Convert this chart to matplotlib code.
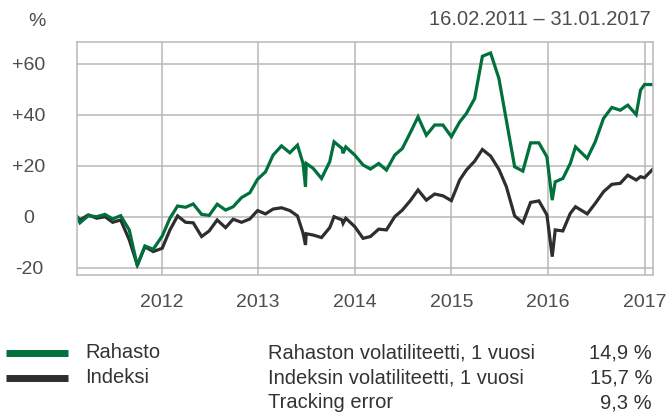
import matplotlib
matplotlib.use("Agg")
import matplotlib.pyplot as plt
from matplotlib.lines import Line2D

plt.rcParams['font.family'] = ['Liberation Sans', 'DejaVu Sans']

# time axis as fractional years (16.02.2011 - 31.01.2017)
t = [2011.124, 2011.155, 2011.241, 2011.328, 2011.414, 2011.493, 2011.576, 2011.665, 2011.748, 2011.827,
     2011.913, 2012.006, 2012.086, 2012.165, 2012.248, 2012.327, 2012.414, 2012.492, 2012.575, 2012.662,
     2012.740, 2012.827, 2012.913, 2012.993, 2013.075, 2013.154, 2013.241, 2013.327, 2013.406, 2013.464,
     2013.489, 2013.497, 2013.568, 2013.655, 2013.740, 2013.785, 2013.868, 2013.878, 2013.906, 2013.999,
     2014.085, 2014.161, 2014.247, 2014.327, 2014.413, 2014.492, 2014.578, 2014.654, 2014.740, 2014.826,
     2014.912, 2014.999, 2015.085, 2015.154, 2015.240, 2015.320, 2015.405, 2015.491, 2015.568, 2015.654,
     2015.739, 2015.819, 2015.905, 2015.988, 2016.043, 2016.074, 2016.153, 2016.230, 2016.284, 2016.405,
     2016.488, 2016.574, 2016.660, 2016.747, 2016.825, 2016.912, 2016.957, 2016.998, 2017.083]

rahasto = [0, -2.4, 0.4, 0, 0.9, -0.9, 0.4, -5.2, -19.3, -11.5,
           -12.8, -7.6, -0.6, 4.2, 3.7, 5.0, 0.9, 0.5, 4.9, 2.6,
           3.9, 7.5, 9.4, 14.7, 17.6, 24.2, 27.8, 25.1, 28.1, 20.9,
           11.8, 20.9, 19.0, 15.0, 21.6, 29.4, 26.8, 24.9, 27.4, 24.2,
           20.3, 18.7, 20.9, 18.3, 24.2, 26.8, 33.3, 39.2, 32.0, 36.0,
           36.0, 31.4, 37.2, 40.5, 46.4, 63.0, 64.3, 54.3, 37.9, 19.6,
           17.9, 29.0, 29.0, 23.5, 6.5, 13.7, 15.0, 20.9, 27.4, 22.9,
           29.4, 38.6, 42.9, 41.8, 43.8, 40.1, 49.7, 51.9, 51.9]

indeksi = [0, -1.3, 0.7, -0.6, 0, -2.2, -1.3, -9.1, -18.9, -11.8,
           -13.7, -12.4, -5.2, 0.3, -2.2, -2.4, -7.8, -5.6, -1.3, -4.3,
           -1.0, -2.2, -0.9, 2.4, 1.1, 3.0, 3.5, 2.4, 0.3, -6.5,
           -11.1, -6.7, -7.2, -8.2, -4.3, 0, -1.3, -2.6, -0.6, -3.9,
           -8.5, -7.8, -4.9, -5.2, 0, 2.6, 6.5, 10.5, 6.5, 8.9,
           8.2, 6.3, 14.4, 18.3, 21.8, 26.4, 23.8, 18.6, 11.8, 0.3,
           -2.4, 5.6, 6.2, 0.7, -15.7, -5.2, -5.6, 1.3, 3.9, 1.1,
           5.2, 9.8, 12.7, 13.1, 16.3, 14.4, 15.7, 15.3, 18.6]

years = [2012, 2013, 2014, 2015, 2016, 2017]
yticks = [-20, 0, 20, 40, 60]
ylabels = ["-20", "0", "+20", "+40", "+60"]

stat_names = ["Rahaston volatiliteetti, 1 vuosi", "Indeksin volatiliteetti, 1 vuosi", "Tracking error"]
stat_values = ["14,9 %", "15,7 %", "9,3 %"]

green = "#00703c"
dark = "#2e2e2e"
gridc = "#b8b8b8"
textc = "#4d4d4d"

fig = plt.figure(figsize=(6.69, 4.15), dpi=100)
ax = fig.add_axes([77/669, 1 - 275/415, (652.7 - 77)/669, (275 - 42)/415])

ax.plot(t, indeksi, color=dark, lw=2.3, solid_joinstyle='miter')
ax.plot(t, rahasto, color=green, lw=2.3, solid_joinstyle='miter')

ax.set_xlim(2011.124, 2017.083)
ax.set_ylim(-22.9, 68.6)
ax.set_xticks(years)
ax.set_xticklabels([str(y) for y in years])
ax.set_yticks(yticks)
ax.set_yticklabels(ylabels)
for lab in ax.get_yticklabels():
    lab.set_ha('center')
ax.tick_params(axis='y', length=0, pad=34.5, labelsize=14, labelcolor=textc)
ax.tick_params(axis='x', length=0, pad=14, labelsize=14, labelcolor=textc)
ax.grid(True, color=gridc, lw=1.1)
ax.set_axisbelow(True)
for s in ax.spines.values():
    s.set_color(gridc)
    s.set_linewidth(1.1)

fig.text(37/669, 1 - 21/415, "%", ha='center', va='center', fontsize=14, color=textc)
fig.text(651/669, 1 - 19.5/415, "16.02.2011 \u2013 31.01.2017", ha='right', va='center',
         fontsize=14.5, color=textc)

# legend + statistics table under the chart
for i, (name, col) in enumerate([("Rahasto", green), ("Indeksi", dark)]):
    yy = 1 - (352.5 + 25 * i) / 415
    fig.add_artist(Line2D([6/669, 68/669], [yy, yy], color=col, lw=5, solid_capstyle='butt'))
    fig.text(85/669, yy, name, ha='left', va='center', fontsize=14.5, color="#333333")

for i, (name, val) in enumerate(zip(stat_names, stat_values)):
    yy = 1 - (352.5 + 25 * i) / 415
    fig.text(268/669, yy, name, ha='left', va='center', fontsize=14.5, color="#333333")
    fig.text(652/669, yy, val, ha='right', va='center', fontsize=14.5, color="#333333")

fig.savefig("out.png", dpi=100)
